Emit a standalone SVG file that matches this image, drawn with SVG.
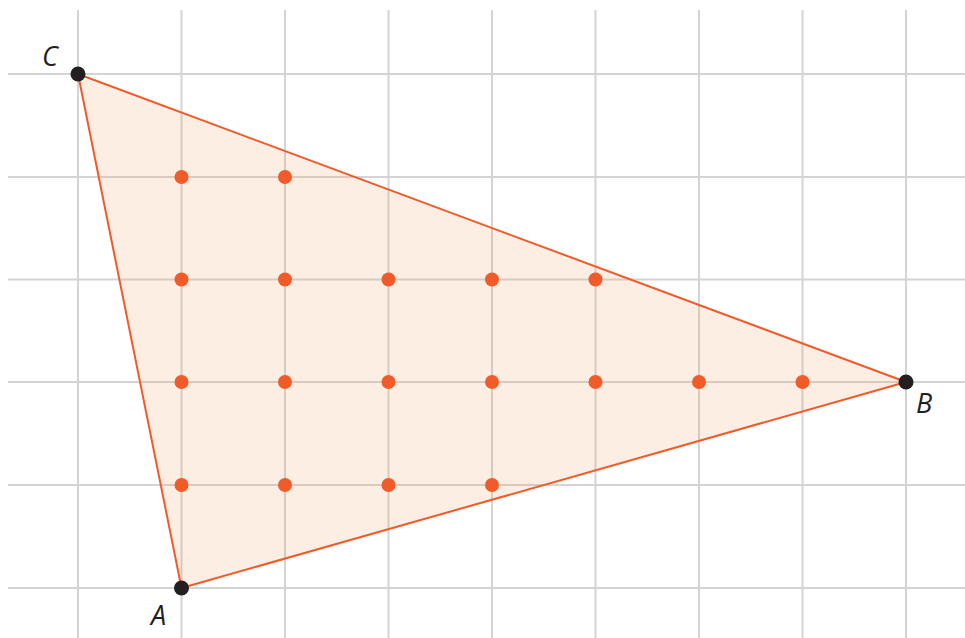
<svg xmlns="http://www.w3.org/2000/svg" width="965" height="638" viewBox="0 0 965 638">
<style>
.grid line{stroke:#d4d4d4;stroke-width:2}
.dot{fill:#f15a29}
.vtx{fill:#231f20}
.lbl{font-family:"Open Sans","Noto Sans",sans-serif;font-style:italic;font-size:27px;fill:#231f20}
</style>
<rect width="965" height="638" fill="#ffffff"/>
<g class="grid">
<line x1="78" y1="10" x2="78" y2="638"/>
<line x1="181.5" y1="10" x2="181.5" y2="638"/>
<line x1="285" y1="10" x2="285" y2="638"/>
<line x1="388.5" y1="10" x2="388.5" y2="638"/>
<line x1="492" y1="10" x2="492" y2="638"/>
<line x1="595.5" y1="10" x2="595.5" y2="638"/>
<line x1="699" y1="10" x2="699" y2="638"/>
<line x1="802.5" y1="10" x2="802.5" y2="638"/>
<line x1="906" y1="10" x2="906" y2="638"/>
<line x1="8" y1="74" x2="965" y2="74"/>
<line x1="8" y1="177" x2="965" y2="177"/>
<line x1="8" y1="279.5" x2="965" y2="279.5"/>
<line x1="8" y1="382" x2="965" y2="382"/>
<line x1="8" y1="485" x2="965" y2="485"/>
<line x1="8" y1="588" x2="965" y2="588"/>
</g>
<g id="triangle">
<polygon points="78,74 906,382 181.5,588" fill="#f4a06a" fill-opacity="0.18" stroke="#f15a29" stroke-width="2" stroke-linejoin="round"/>
</g>
<g id="lattice-points">
<circle class="dot" cx="181.5" cy="177" r="7"/>
<circle class="dot" cx="285" cy="177" r="7"/>
<circle class="dot" cx="181.5" cy="279.5" r="7"/>
<circle class="dot" cx="285" cy="279.5" r="7"/>
<circle class="dot" cx="388.5" cy="279.5" r="7"/>
<circle class="dot" cx="492" cy="279.5" r="7"/>
<circle class="dot" cx="595.5" cy="279.5" r="7"/>
<circle class="dot" cx="181.5" cy="382" r="7"/>
<circle class="dot" cx="285" cy="382" r="7"/>
<circle class="dot" cx="388.5" cy="382" r="7"/>
<circle class="dot" cx="492" cy="382" r="7"/>
<circle class="dot" cx="595.5" cy="382" r="7"/>
<circle class="dot" cx="699" cy="382" r="7"/>
<circle class="dot" cx="802.5" cy="382" r="7"/>
<circle class="dot" cx="181.5" cy="485" r="7"/>
<circle class="dot" cx="285" cy="485" r="7"/>
<circle class="dot" cx="388.5" cy="485" r="7"/>
<circle class="dot" cx="492" cy="485" r="7"/>
</g>
<g id="vertex-C">
<circle class="vtx" cx="78" cy="74" r="7.5"/>
<text class="lbl" x="42" y="66">C</text>
</g>
<g id="vertex-B">
<circle class="vtx" cx="906" cy="382" r="7.5"/>
<text class="lbl" x="916" y="413">B</text>
</g>
<g id="vertex-A">
<circle class="vtx" cx="181.5" cy="588" r="7.5"/>
<text class="lbl" x="151" y="625">A</text>
</g>
</svg>
